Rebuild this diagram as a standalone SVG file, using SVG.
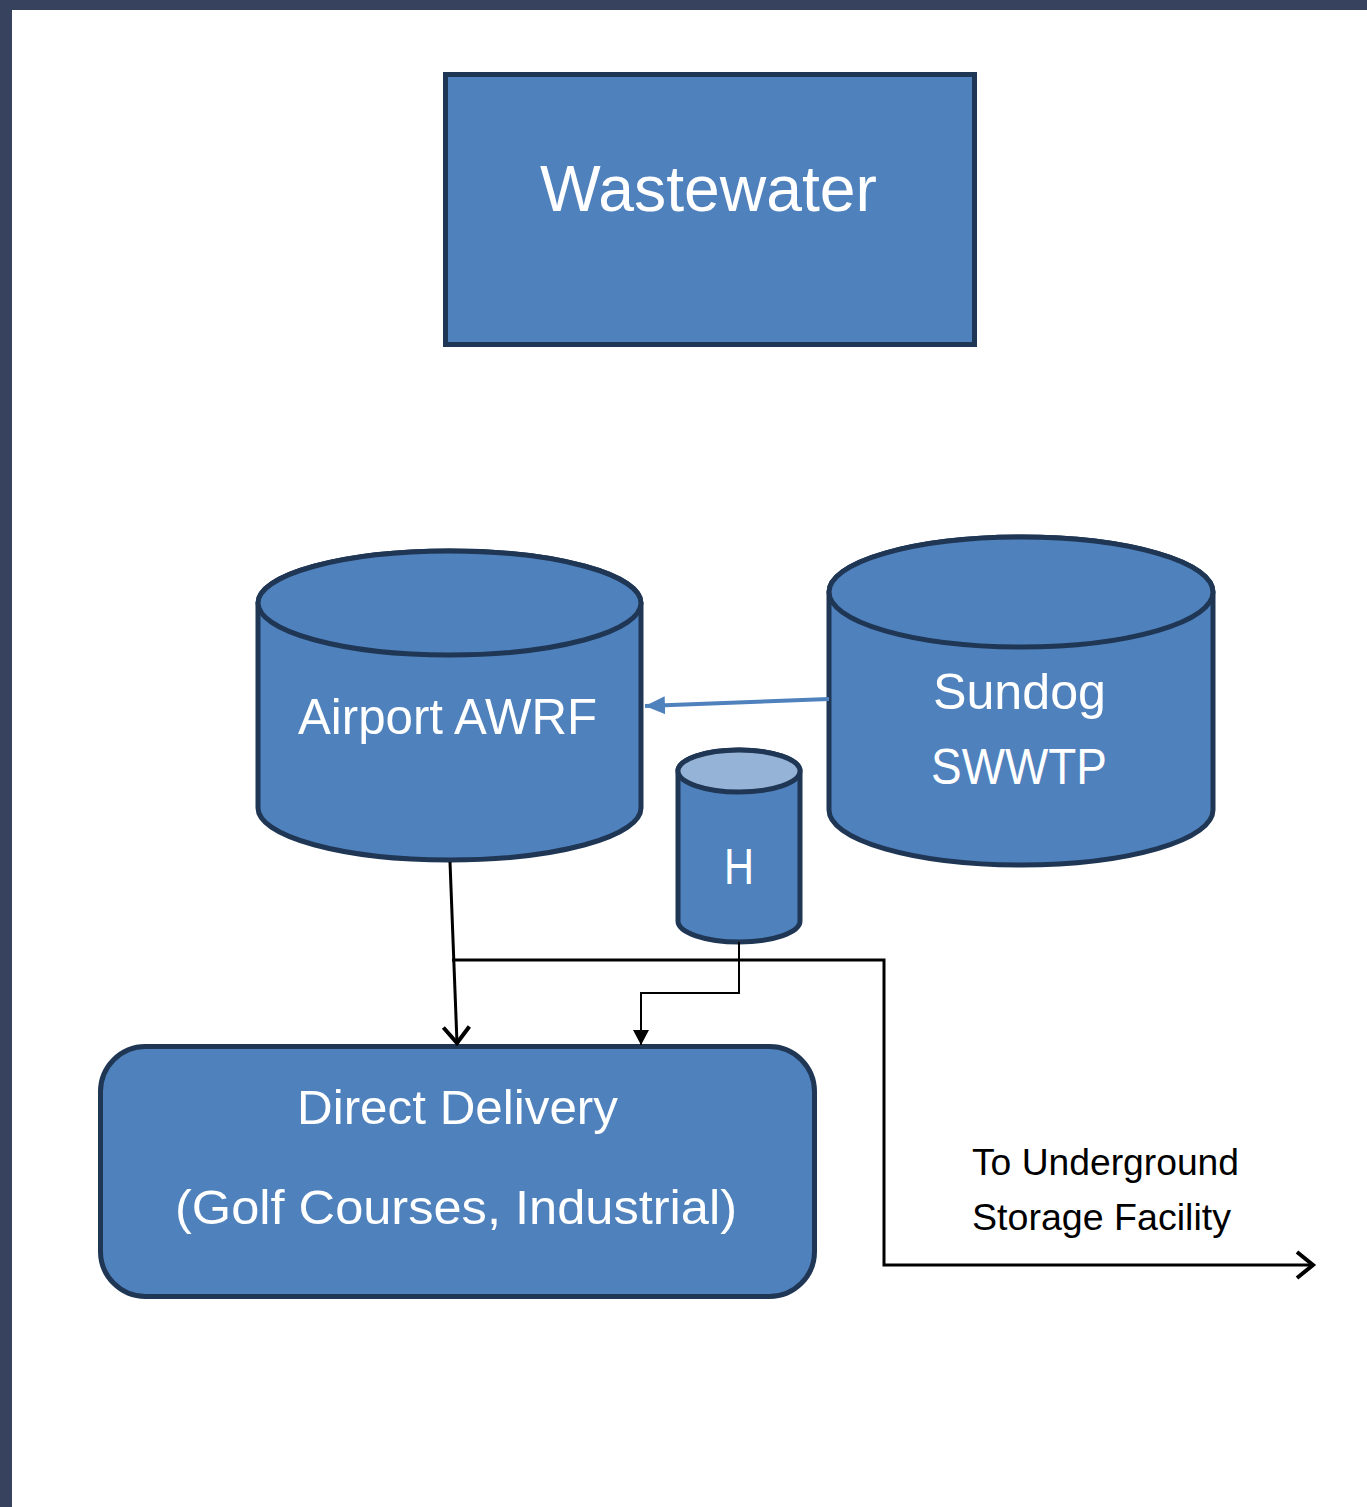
<svg xmlns="http://www.w3.org/2000/svg" width="1367" height="1507" viewBox="0 0 1367 1507">
<style>
.shape{fill:#4f81bd;stroke:#1f3654;stroke-width:5}
.lbl{font-family:"Liberation Sans",Arial,sans-serif;fill:#ffffff;text-anchor:middle}
.note{font-family:"Liberation Sans",Arial,sans-serif;fill:#000000}
.conn{fill:none;stroke:#000000;stroke-width:3}
</style>
<defs>
<marker id="openArrow" markerUnits="userSpaceOnUse" markerWidth="40" markerHeight="40" viewBox="-20 -20 40 40" refX="0" refY="0" orient="auto">
<path d="M-16,-13 L0,0 L-16,13" fill="none" stroke="#000" stroke-width="4" stroke-linejoin="miter"/>
</marker>
<marker id="filledArrow" markerUnits="userSpaceOnUse" markerWidth="40" markerHeight="40" viewBox="-20 -20 40 40" refX="0" refY="0" orient="auto">
<path d="M-15,-8 L0,0 L-15,8 Z" fill="#000"/>
</marker>
<marker id="blueArrow" markerUnits="userSpaceOnUse" markerWidth="40" markerHeight="40" viewBox="-20 -20 40 40" refX="0" refY="0" orient="auto">
<path d="M-20,-9 L0,0 L-20,9 Z" fill="#4f81bd"/>
</marker>
</defs>
<rect x="0" y="0" width="1367" height="1507" fill="#ffffff"/>
<rect x="0" y="0" width="1367" height="10" fill="#37425e"/>
<rect x="0" y="0" width="12" height="1507" fill="#37425e"/>

<g id="wastewater">
<rect class="shape" x="445.5" y="74.5" width="529" height="270"/>
<text class="lbl" x="708.5" y="211" font-size="64" textLength="337" lengthAdjust="spacingAndGlyphs">Wastewater</text>
</g>

<g id="airport-awrf">
<path class="shape" d="M258,603 A191.5,52 0 0 1 641,603 L641,808 A191.5,52 0 0 1 258,808 Z"/>
<ellipse class="shape" cx="449.5" cy="603" rx="191.5" ry="52"/>
<text class="lbl" x="447.5" y="734" font-size="50" textLength="299" lengthAdjust="spacingAndGlyphs">Airport AWRF</text>
</g>

<g id="sundog-swwtp">
<path class="shape" d="M829,592 A192,55 0 0 1 1213,592 L1213,810 A192,55 0 0 1 829,810 Z"/>
<ellipse class="shape" cx="1021" cy="592" rx="192" ry="55"/>
<text class="lbl" x="1019.5" y="709" font-size="50" textLength="173" lengthAdjust="spacingAndGlyphs">Sundog</text>
<text class="lbl" x="1019" y="784" font-size="50" textLength="176" lengthAdjust="spacingAndGlyphs">SWWTP</text>
</g>

<g id="h-tank">
<path class="shape" d="M678,771 A61,21 0 0 1 800,771 L800,921 A61,21 0 0 1 678,921 Z"/>
<ellipse class="shape" cx="739" cy="771" rx="61" ry="21" style="fill:#95b3d7"/>
<text class="lbl" x="739" y="884" font-size="50" textLength="30" lengthAdjust="spacingAndGlyphs">H</text>
</g>

<g id="direct-delivery">
<rect class="shape" x="100.5" y="1046.5" width="714" height="250" rx="45" ry="45"/>
<text class="lbl" x="457.5" y="1124" font-size="48" textLength="321" lengthAdjust="spacingAndGlyphs">Direct Delivery</text>
<text class="lbl" x="456" y="1224" font-size="48" textLength="562" lengthAdjust="spacingAndGlyphs">(Golf Courses, Industrial)</text>
</g>

<g id="storage-label">
<text class="note" x="972" y="1175" font-size="36" textLength="267" lengthAdjust="spacingAndGlyphs">To Underground</text>
<text class="note" x="972" y="1230" font-size="36" textLength="259" lengthAdjust="spacingAndGlyphs">Storage Facility</text>
</g>

<g id="connectors">
<line x1="829" y1="699" x2="645" y2="706" stroke="#4f81bd" stroke-width="4" marker-end="url(#blueArrow)"/>
<line class="conn" x1="450" y1="862" x2="457" y2="1043" marker-end="url(#openArrow)"/>
<polyline class="conn" points="452,960 884,960 884,1265 1313,1265" marker-end="url(#openArrow)"/>
<polyline class="conn" style="stroke-width:2" points="739,942 739,993 641,993 641,1045" marker-end="url(#filledArrow)"/>
</g>
</svg>
